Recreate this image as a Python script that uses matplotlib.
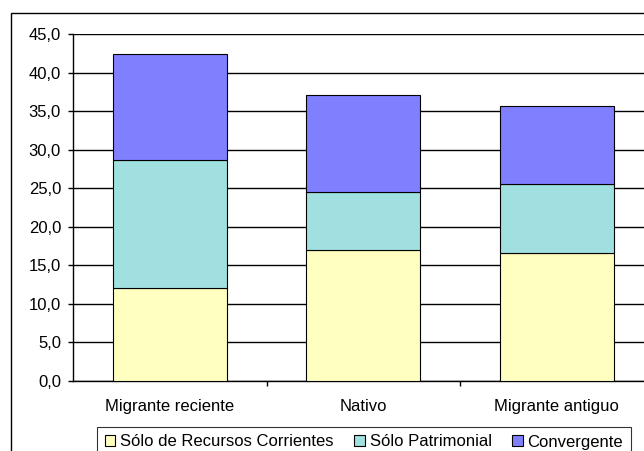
import matplotlib.pyplot as plt
from matplotlib.patches import Rectangle
import numpy as np

plt.rcParams['font.family'] = ['Liberation Sans', 'DejaVu Sans']

# Data
categories = ['Migrante reciente', 'Nativo', 'Migrante antiguo']
corrientes = [12.0, 17.0, 16.6]
patrimonial = [16.7, 7.5, 8.9]
convergente = [13.7, 12.6, 10.1]
series_names = ['Sólo de Recursos Corrientes', 'Sólo Patrimonial', 'Convergente']
colors = ['#FFFFC0', '#A0E0E0', '#8080FF']

fig = plt.figure(figsize=(6.44, 4.51), dpi=100)

# outer chart border
fig.patches.append(Rectangle((11 / 644, -0.1), 1.0, 0.9712 + 0.1,
                             transform=fig.transFigure, fill=False,
                             edgecolor='black', linewidth=1.0))

ax = fig.add_axes([73 / 644, 1 - 381 / 451, 580.5 / 644, 347 / 451])

x = np.arange(len(categories))
width = 0.59
bottom = np.zeros(len(categories))
for vals, name, c in zip([corrientes, patrimonial, convergente], series_names, colors):
    ax.bar(x, vals, width, bottom=bottom, color=c, edgecolor='black',
           linewidth=0.8, label=name, zorder=3)
    bottom += np.array(vals)

ax.set_ylim(0, 45)
ax.set_xlim(-0.5, 2.5)
ax.set_yticks(np.arange(0, 46, 5))
ax.set_yticklabels([f'{v:.1f}'.replace('.', ',') for v in np.arange(0, 46, 5)])
ax.yaxis.grid(True, color='black', linewidth=1.0, zorder=0)

# tick marks between categories, labels under bars
ax.set_xticks([0.5, 1.5])
ax.set_xticklabels([])
ax.set_xticks(x, minor=True)
ax.set_xticklabels(categories, minor=True)
ax.tick_params(axis='x', which='minor', length=0, pad=13, labelsize=12)
ax.tick_params(axis='x', which='major', length=3.6, width=1, color='black')
ax.tick_params(axis='y', length=3.6, width=1, labelsize=12, pad=5)

for s in ['top', 'right']:
    ax.spines[s].set_visible(False)
ax.spines['left'].set_linewidth(1.0)
ax.spines['bottom'].set_linewidth(1.0)

leg = ax.legend(loc='upper left', bbox_to_anchor=(97 / 644, 1 - 427 / 451),
                bbox_transform=fig.transFigure, ncol=3, frameon=True,
                fancybox=False, edgecolor='black', fontsize=12,
                handlelength=0.65, handleheight=0.65, handletextpad=0.3,
                columnspacing=1.2, borderpad=0.45, borderaxespad=0)
leg.get_frame().set_linewidth(0.8)

fig.savefig('out.png', dpi=100)
